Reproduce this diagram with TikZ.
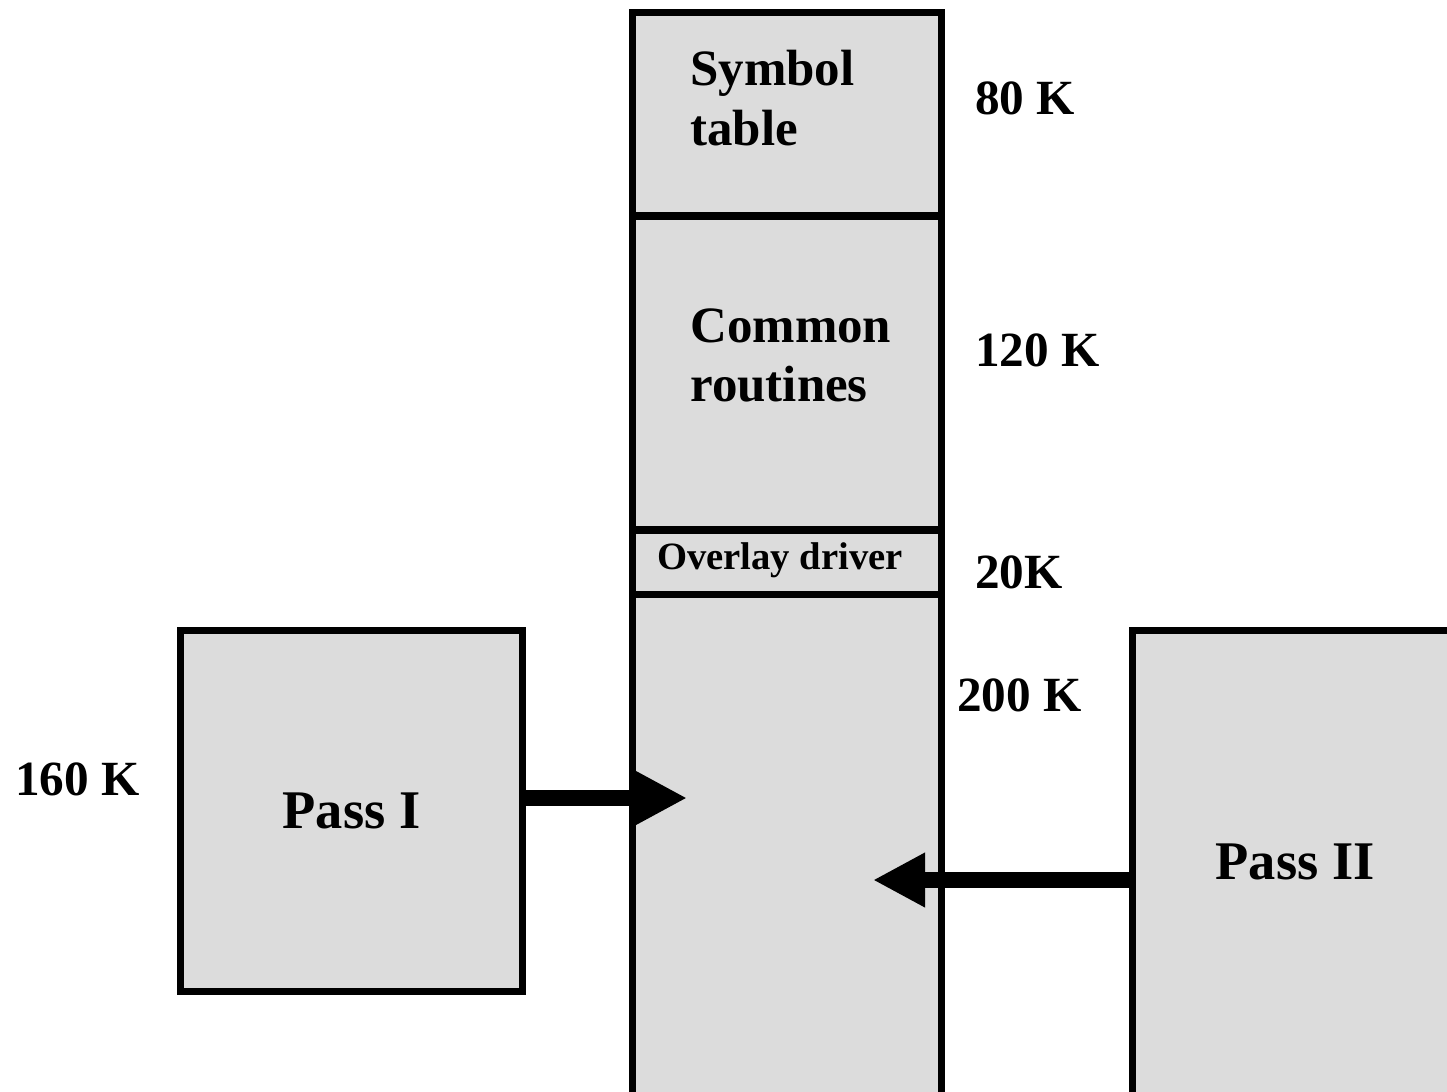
\documentclass[tikz,border=0pt]{standalone}
\usepackage{fontspec}
\setmainfont{Liberation Serif}
\usetikzlibrary{arrows.meta,positioning}
\definecolor{panel}{HTML}{DCDCDC}
\definecolor{ink}{HTML}{000000}

\begin{document}
\begin{tikzpicture}[x=0.02cm,y=-0.02cm,
  cell/.style={draw=ink,fill=panel,line width=0.14cm,inner sep=0pt,outer sep=0pt,
    minimum width=6.2cm},
  pass/.style={draw=ink,fill=panel,line width=0.14cm,inner sep=0pt,outer sep=0pt,
    font=\fontsize{31}{37}\selectfont\bfseries},
  txt/.style={inner sep=0pt,align=left,text=ink,font=\fontsize{29}{34}\selectfont\bfseries},
  size/.style={inner sep=0pt,anchor=west,text=ink,font=\fontsize{28}{34}\selectfont\bfseries},
  fat/.style={draw=ink,line width=0.33cm,-{Triangle[length=1.04cm,width=1.02cm]}}
]
\useasboundingbox (0,0) rectangle (1447,1092);
% memory column
\node[cell,minimum height=4.08cm] (symtab) at (787,114) {};
\node[cell,minimum height=6.28cm] (common) at (787,373) {};
\node[cell,minimum height=1.28cm] (driver) at (787,562) {};
\node[cell,minimum height=10.32cm] (overlay) at (787,852) {};
\node[txt,anchor=north west] (symtxt) at (690,50) {Symbol\\table};
\node[txt,anchor=north west] (comtxt) at (690,308) {Common\\routines};
\node[txt,font=\fontsize{22}{26}\selectfont\bfseries] (drvtxt) at (780,560) {Overlay driver};
% passes
\node[pass,minimum width=6.86cm,minimum height=7.24cm] (pass1) at (351.5,811) {Pass I};
\node[pass,minimum width=6.56cm,minimum height=9.6cm] (pass2) at (1296,870) {};
\node[pass,draw=none,fill=none] (p2txt) at (1295,862) {Pass II};
% sizes
\node[size] (k80) at (975,98) {80 K};
\node[size] (k120) at (975,350) {120 K};
\node[size] (k20) at (975,572) {20K};
\node[size] (k200) at (957,695) {200 K};
\node[size] (k160) at (15,779) {160 K};
% loading arrows
\coordinate (tip1) at (687,798);
\coordinate (tip2) at (873,880);
\draw[fat] (pass1.east |- tip1) -- (tip1);
\draw[fat] (pass2.west |- tip2) -- (tip2);
\end{tikzpicture}
\end{document}
